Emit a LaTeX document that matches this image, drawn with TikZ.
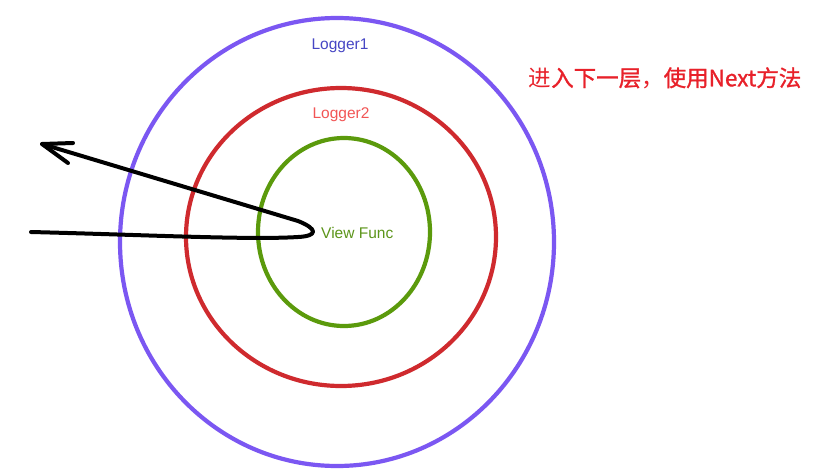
\documentclass[tikz,border=0pt]{standalone}
\usepackage{fontspec}
\setmainfont{Liberation Sans}
\newfontfamily\cjk{Noto Sans CJK SC}
\newfontfamily\cjkm[FakeBold=1.2]{Noto Sans CJK SC}
\definecolor{ringpurple}{HTML}{7B57F2}
\definecolor{ringred}{HTML}{CF2A2E}
\definecolor{ringgreen}{HTML}{5B9A0C}
\definecolor{labblue}{HTML}{4646C4}
\definecolor{labred}{HTML}{F25555}
\definecolor{labgreen}{HTML}{5C951A}
\definecolor{notered}{HTML}{E8212A}
\tikzset{
  ring/.style={line width=4.2pt},
  lab/.style={inner sep=0pt, font=\fontsize{15.5}{18}\selectfont},
  stroke/.style={line width=4pt, line cap=round, line join=round, black}
}
\begin{document}
\begin{tikzpicture}[x=1pt,y=-1pt]
\useasboundingbox (0,0) rectangle (830,474);
\fill[white] (0,0) rectangle (830,474);
\draw[ring, ringpurple] (337,242) ellipse [x radius=217pt, y radius=224pt];
\draw[ring, ringred] (341,237) ellipse [x radius=155pt, y radius=149pt];
\draw[ring, ringgreen] (344,232) ellipse [x radius=86pt, y radius=94pt];
\node[lab, text=labblue] (l1) at (340,46) {Logger1};
\node[lab, text=labred] (l2) at (341,115) {Logger2};
\node[lab, text=labgreen, anchor=west] (vf) at (321,233) {View Func};
\node[inner sep=0pt, text=notered, font=\cjk\fontsize{22.5}{26}\selectfont] (note) at (665,78) {进{\cjkm 入下一层}，{\cjkm 使用Next方法}};
\coordinate (s) at (31,232);
\coordinate (tip) at (42,144);
\coordinate (b1) at (73,143);
\coordinate (b2) at (68,163);
\draw[stroke] (s) .. controls (150,235) and (250,240) .. (298,237)
  .. controls (318,236) and (318,229) .. (298,221) -- (tip);
\draw[stroke] (b1) -- (tip) -- (b2);
\end{tikzpicture}
\end{document}
